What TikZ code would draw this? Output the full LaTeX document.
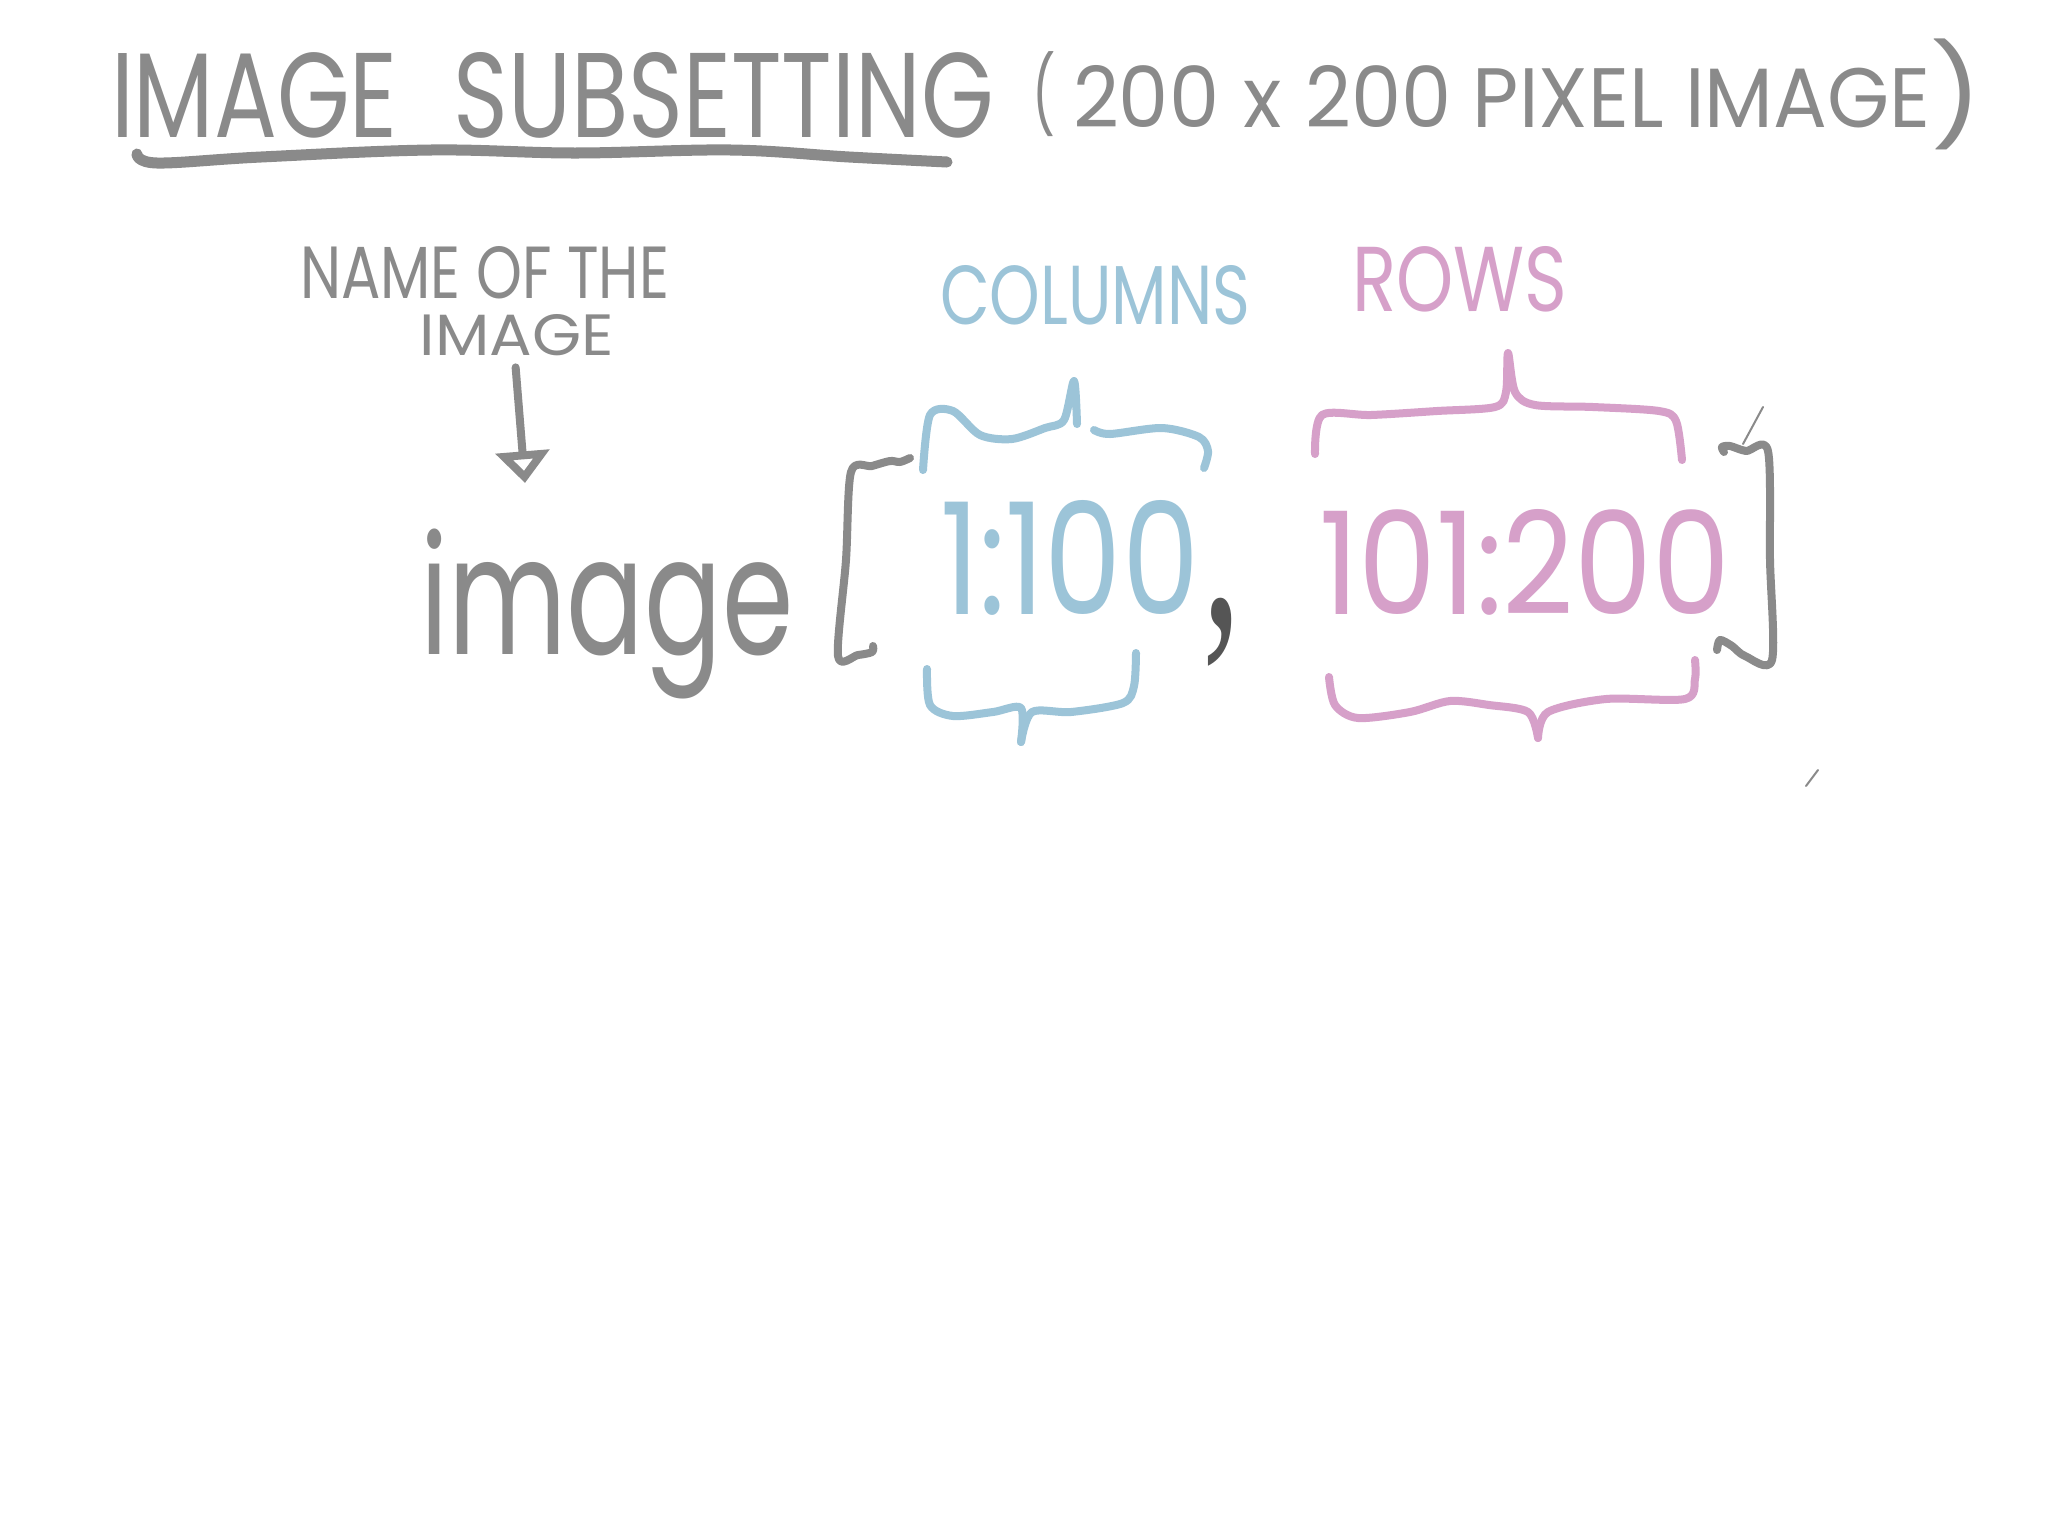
\documentclass[tikz,border=0pt]{standalone}
\usepackage{fontspec}
\setmainfont{Poppins}
\newfontfamily\commafont{Liberation Serif}
\usepackage{graphicx}
\usetikzlibrary{arrows.meta,calc}
\definecolor{ink}{HTML}{8A8A8A}
\definecolor{darkink}{HTML}{555555}
\definecolor{colblue}{HTML}{9CC4D8}
\definecolor{rowpink}{HTML}{D6A0C9}
\begin{document}
\begin{tikzpicture}[x=0.01cm,y=-0.01cm,
  txt/.style={inner sep=0pt,outer sep=0pt,anchor=north west},
  stroke/.style={line width=0.08cm,line cap=round,line join=round},
  thinmark/.style={line width=0.02cm,line cap=round,ink}]
\useasboundingbox (0,0) rectangle (2048,1536);
\fill[white] (0,0) rectangle (2048,1536);

% title
\node[txt,text=ink] (title) at (111,52) {\resizebox{8.82cm}{0.85cm}{IMAGE\hspace{0.6em}SUBSETTING}};
\node[txt,text=ink] (lp) at (1032,52) {\resizebox*{0.23cm}{0.85cm}{(}};
\node[txt,text=ink] (sub) at (1073,65) {\resizebox{8.57cm}{0.62cm}{200\hspace{0.3em}x\hspace{0.3em}200 PIXEL IMAGE}};
\node[txt,text=ink] (rp) at (1930,39) {\resizebox*{0.52cm}{1.11cm}{)}};
\draw[stroke,line width=0.11cm,ink] plot[smooth,tension=0.6] coordinates
  {(137,154) (157,163) (261,157) (431,150) (575,153) (731,150) (849,157) (947,162)};

% name of the image
\node[txt,text=ink,align=center,font=\fontsize{10}{0.57cm}\selectfont] (name) at (300,246)
  {\resizebox{3.69cm}{0.52cm}{NAME OF THE}\\\hspace*{0.64cm}\resizebox{1.94cm}{0.41cm}{IMAGE}};
\node[txt,text=ink] (word) at (420,529) {\resizebox*{3.73cm}{1.70cm}{image}};
\draw[stroke,ink,-{Triangle[open,length=9pt,width=15pt]}]
  ($(name.south)+(31,12)$) -- ($(word.north west)+(105,-46)$);

% labels
\node[txt,text=colblue] (cols) at (940,265) {\resizebox{3.10cm}{0.59cm}{COLUMNS}};
\node[txt,text=rowpink] (rows) at (1352,246) {\resizebox{2.15cm}{0.65cm}{ROWS}};

% ranges
\node[txt,text=colblue] (crange) at (940,500) {\resizebox{2.59cm}{1.14cm}{1:100}};
\node[txt,text=darkink] (comma) at (1202,598) {\resizebox*{0.39cm}{0.68cm}{\commafont ,}};
\node[txt,text=rowpink] (rrange) at (1319,509) {\resizebox{4.11cm}{1.05cm}{101:200}};

% brackets
\draw[stroke,ink] plot[smooth,tension=0.5] coordinates
  {(910,458) (900,462) (890,461) (872,466) (851,472) (846,560) (838,656) (858,655) (872,652) (873,646)};
\draw[stroke,ink] plot[smooth,tension=0.5] coordinates
  {(1724,452) (1722,447) (1730,446) (1746,451) (1768,451) (1770,560) (1772,660) (1745,656) (1732,646) (1720,640) (1717,650)};

% braces
\draw[stroke,colblue] plot[smooth,tension=0.5] coordinates
  {(923,470) (930,415) (953,411) (980,435) (1012,439) (1045,428) (1064,420) (1074,381) (1077,424)};
\draw[stroke,colblue] plot[smooth,tension=0.5] coordinates
  {(1094,430) (1110,434) (1162,428) (1199,437) (1208,451) (1204,468)};
\draw[stroke,colblue] plot[smooth,tension=0.5] coordinates
  {(927,669) (930,705) (953,716) (993,712) (1021,708) (1021,742)};
\draw[stroke,colblue] plot[smooth,tension=0.5] coordinates
  {(1021,742) (1032,712) (1071,712) (1123,703) (1134,686) (1136,653)};
\draw[stroke,rowpink] plot[smooth,tension=0.5] coordinates
  {(1315,454) (1322,415) (1371,415) (1437,411) (1495,407) (1506,392) (1508,353) (1515,392) (1535,405) (1593,407) (1659,411) (1676,421) (1682,460)};
\draw[stroke,rowpink] plot[smooth,tension=0.5] coordinates
  {(1329,677) (1335,705) (1358,718) (1410,712) (1450,701) (1489,705) (1528,712) (1538,738)};
\draw[stroke,rowpink] plot[smooth,tension=0.5] coordinates
  {(1538,738) (1548,712) (1606,699) (1685,699) (1695,679) (1695,660)};

% stray pen marks
\draw[thinmark] (1743,444) -- (1763,407);
\draw[thinmark] (1806,786) -- (1818,770);
\end{tikzpicture}
\end{document}
